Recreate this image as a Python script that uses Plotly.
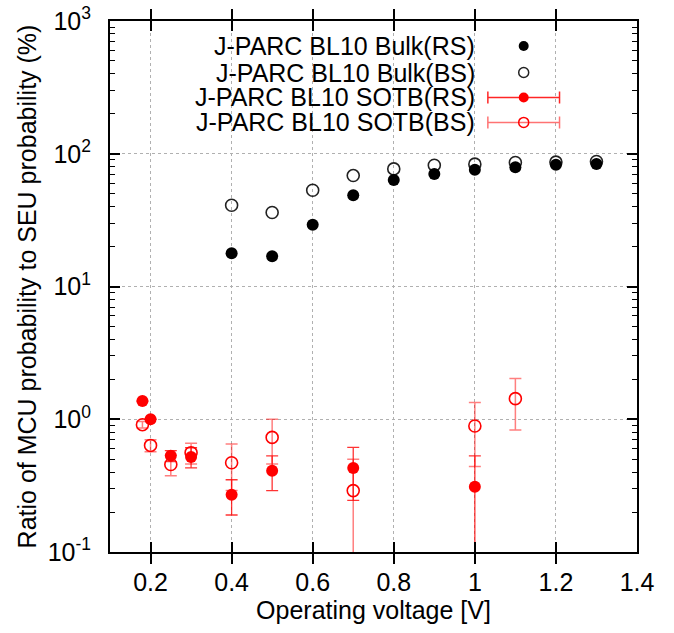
import plotly.graph_objects as go

# ---- data ----
bulk_x = [0.4, 0.5, 0.6, 0.7, 0.8, 0.9, 1.0, 1.1, 1.2, 1.3]
bulk_rs = [17.8, 16.9, 29.2, 48.7, 63.5, 70.5, 75.7, 79.2, 82.6, 83.6]
bulk_bs = [40.9, 36.1, 53.1, 68.5, 76.9, 82.0, 83.5, 86.0, 86.5, 87.5]

sotb_rs_x = [0.18, 0.2, 0.25, 0.3, 0.4, 0.5, 0.7, 1.0]
sotb_rs = [1.37, 1.0, 0.53, 0.52, 0.27, 0.41, 0.43, 0.31]
sotb_rs_err = [0.0, 0.0, 0.05, 0.09, 0.08, 0.12, 0.185, 0.22]

sotb_bs_x = [0.18, 0.2, 0.25, 0.3, 0.4, 0.5, 0.7, 1.0, 1.1]
sotb_bs = [0.91, 0.635, 0.456, 0.56, 0.47, 0.73, 0.29, 0.89, 1.43]
sotb_bs_err = [0.05, 0.065, 0.08, 0.10, 0.18, 0.27, 0.21, 0.45, 0.60]

legend_names = ["J-PARC BL10 Bulk(RS)", "J-PARC BL10 Bulk(BS)",
                "J-PARC BL10 SOTB(RS)", "J-PARC BL10 SOTB(BS)"]

x_ticks = [0.2, 0.4, 0.6, 0.8, 1.0, 1.2, 1.4]
x_ticklabels = ["0.2", "0.4", "0.6", "0.8", "1", "1.2", "1.4"]
y_ticks = [0.1, 1, 10, 100, 1000]
y_ticklabels = ["10<sup>-1</sup>", "10<sup>0</sup>", "10<sup>1</sup>",
                "10<sup>2</sup>", "10<sup>3</sup>"]

FONT = "Liberation Sans, Arial, sans-serif"
FS = 25
RED = "#ff0000"

fig = go.Figure()

fig.add_trace(go.Scatter(
    x=sotb_bs_x, y=sotb_bs, mode="markers", name=legend_names[3],
    marker=dict(symbol="circle-open", size=12, color=RED, line=dict(width=1.6, color=RED)),
    error_y=dict(type="data", array=sotb_bs_err, symmetric=True,
                 color="rgba(255,0,0,0.5)", thickness=1.5, width=6),
    showlegend=False))
fig.add_trace(go.Scatter(
    x=sotb_rs_x, y=sotb_rs, mode="markers", name=legend_names[2],
    marker=dict(symbol="circle", size=12, color=RED),
    error_y=dict(type="data", array=sotb_rs_err, symmetric=True,
                 color="rgba(255,0,0,0.8)", thickness=1.3, width=6),
    showlegend=False))
fig.add_trace(go.Scatter(
    x=bulk_x, y=bulk_bs, mode="markers", name=legend_names[1],
    marker=dict(symbol="circle-open", size=12, color="#222222", line=dict(width=1.6, color="#222222")),
    showlegend=False))
fig.add_trace(go.Scatter(
    x=bulk_x, y=bulk_rs, mode="markers", name=legend_names[0],
    marker=dict(symbol="circle", size=12, color="black"),
    showlegend=False))

# ---- custom legend (text left, symbol right, gnuplot style) ----
leg_rows = [0.953, 0.903, 0.856, 0.809]
leg_text_x = 0.695
leg_sym_x = 0.785
leg_err_half = 0.068
leg_styles = [
    dict(symbol="circle", size=10, color="black"),
    dict(symbol="circle-open", size=10, color="#222222", line=dict(width=1.5, color="#222222")),
    dict(symbol="circle", size=10, color=RED),
    dict(symbol="circle-open", size=10, color=RED, line=dict(width=1.5, color=RED)),
]
leg_err_colors = [None, None, "rgba(255,0,0,0.85)", "rgba(255,0,0,0.55)"]
for name, yy, st, ec in zip(legend_names, leg_rows, leg_styles, leg_err_colors):
    tr = go.Scatter(x=[leg_sym_x], y=[yy], mode="markers", marker=st,
                    xaxis="x2", yaxis="y2", showlegend=False, hoverinfo="skip")
    if ec:
        tr.error_x = dict(type="constant", value=leg_err_half, color=ec, thickness=1.5, width=6)
    fig.add_trace(tr)
    fig.add_annotation(x=leg_text_x, y=yy, xref="paper", yref="paper", text=name,
                       showarrow=False, xanchor="right", yanchor="middle", borderpad=0,
                       font=dict(family=FONT, size=FS, color="black"))

# invisible trace to activate right-side mirror axis (for minor ticks)
fig.add_trace(go.Scatter(x=[None], y=[None], yaxis="y3", showlegend=False, hoverinfo="skip"))

common_grid = dict(showgrid=True, gridcolor="#b0b0b0", griddash="dot", gridwidth=1)

fig.update_layout(
    width=674, height=633,
    margin=dict(l=110, r=37, t=21, b=81),
    paper_bgcolor="white", plot_bgcolor="white",
    font=dict(family=FONT, size=FS, color="black"),
    xaxis=dict(
        range=[0.1, 1.4], tickvals=x_ticks, ticktext=x_ticklabels,
        ticks="inside", ticklen=10, tickwidth=1.5, tickcolor="black",
        showline=True, linewidth=2, linecolor="black", mirror="allticks",
        zeroline=False, ticklabelstandoff=7, automargin=False,
        title=dict(text="Operating voltage [V]", standoff=6, font=dict(size=FS)),
        **common_grid,
    ),
    yaxis=dict(
        type="log", range=[-1, 3], tickvals=y_ticks, ticktext=y_ticklabels,
        ticks="inside", ticklen=10, tickwidth=1.5, tickcolor="black",
        showline=True, linewidth=2, linecolor="black", mirror="allticks",
        zeroline=False, ticklabelstandoff=12, automargin=False,
        minor=dict(ticks="inside", ticklen=5, tickwidth=1.2, tickcolor="black",
                   dtick="D1", showgrid=False),
        title=dict(text="Ratio of MCU probability to SEU probability (%)", standoff=4,
                   font=dict(size=FS)),
        **common_grid,
    ),
    yaxis3=dict(
        type="log", range=[-1, 3], overlaying="y", side="right",
        tickvals=y_ticks, showticklabels=False,
        ticks="inside", ticklen=10, tickwidth=1.5, tickcolor="black",
        minor=dict(ticks="inside", ticklen=5, tickwidth=1.2, tickcolor="black",
                   dtick="D1", showgrid=False),
        showgrid=False, zeroline=False, showline=False, automargin=False, fixedrange=True,
    ),
    xaxis2=dict(range=[0, 1], overlaying="x", visible=False, fixedrange=True),
    yaxis2=dict(range=[0, 1], overlaying="y", visible=False, fixedrange=True),
)

fig.write_html("out.html")
